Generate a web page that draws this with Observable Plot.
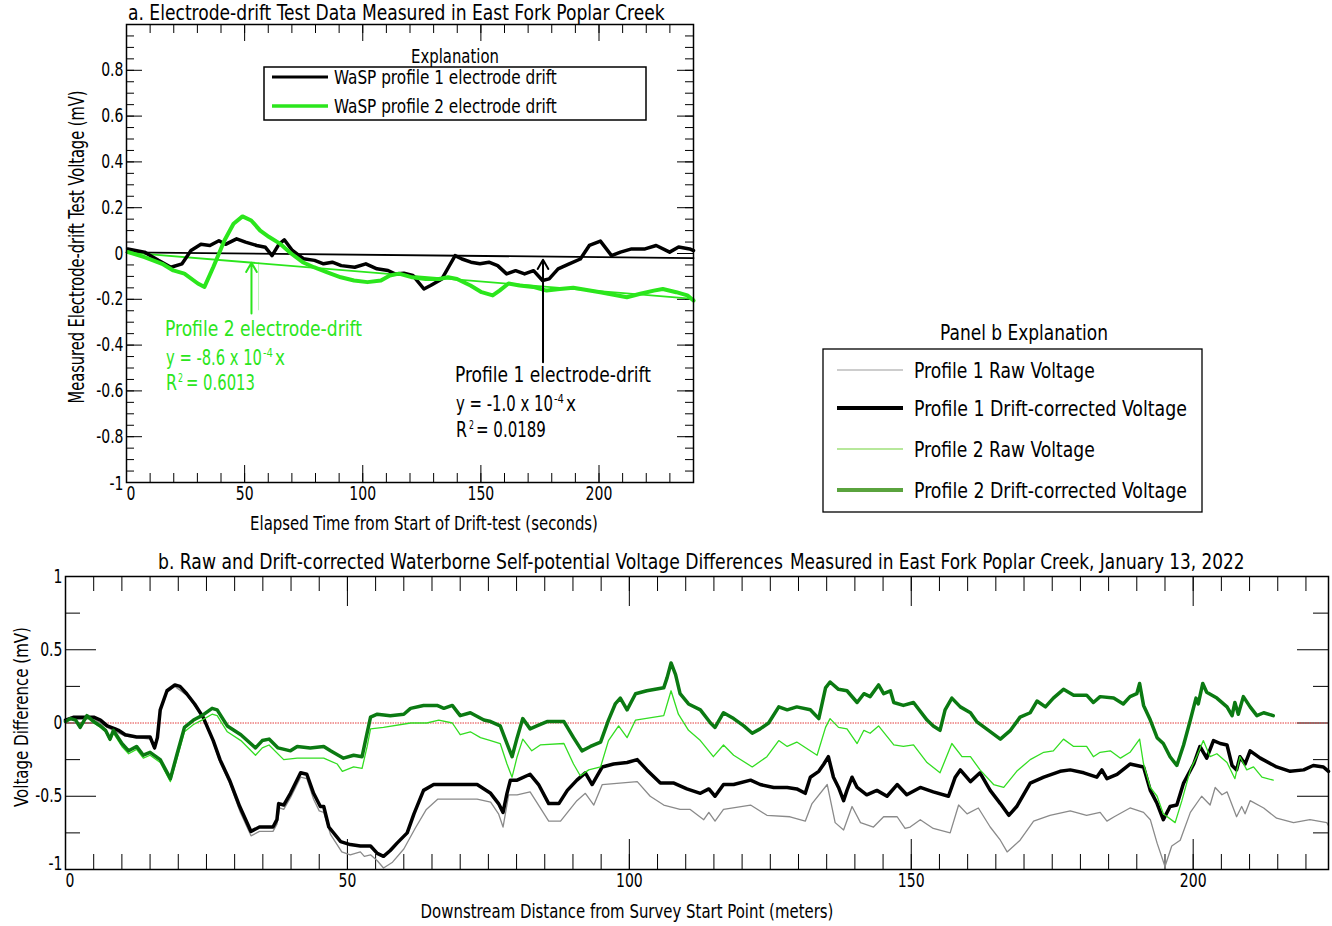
<!DOCTYPE html>
<html><head><meta charset="utf-8">
<script src="https://cdn.jsdelivr.net/npm/d3@7"></script>
<script src="https://cdn.jsdelivr.net/npm/@observablehq/plot@0.6"></script>
<style>
body{margin:0;background:#fff;width:1332px;height:926px;overflow:hidden;position:relative}
#pa,#pb,#ov{position:absolute;left:0}
#pa{top:0}#pb{top:545px}#ov{top:0}
svg text{font-family:"Liberation Sans Narrow","DejaVu Sans Condensed","Roboto Condensed","Noto Sans",sans-serif}
</style></head><body>
<div id="pa"></div><div id="pb"></div><svg id="ov" width="1332" height="926"></svg>
<script>
const FONT = '"Liberation Sans Narrow","DejaVu Sans Condensed","Roboto Condensed","Noto Sans",sans-serif';

// ---------- Panel a data: [elapsed seconds, mV] ----------
const drift1 = [[0.5,0.02],[7.6,0.006],[13.5,-0.03],[18.8,-0.06],[23.5,-0.045],[27.3,0.013],[31.5,0.04],[35.3,0.035],[39.1,0.056],[41.9,0.04],[46.6,0.064],[50.4,0.05],[55.1,0.035],[58.8,0.027],[61.6,-0.009],[64.5,0.04],[66.8,0.06],[70.2,0.013],[74.9,-0.023],[79.6,-0.03],[83.4,-0.045],[87.1,-0.038],[90.9,-0.053],[96.6,-0.06],[101.3,-0.045],[106,-0.067],[110.7,-0.074],[113.6,-0.089],[117.4,-0.086],[121.2,-0.096],[125.9,-0.155],[128.7,-0.14],[133.5,-0.111],[136.3,-0.06],[139.1,-0.009],[142,-0.024],[145.8,-0.038],[149.6,-0.045],[153.4,-0.038],[157.1,-0.053],[160.9,-0.089],[164.7,-0.075],[168.5,-0.089],[172.3,-0.075],[176.1,-0.118],[178.9,-0.111],[182.7,-0.067],[187.4,-0.045],[192.1,-0.024],[195.9,0.035],[200.6,0.054],[205.3,-0.009],[209.1,0.006],[213.8,0.02],[219.5,0.02],[224.2,0.035],[229.9,0.006],[233.7,0.028],[238.4,0.02],[240,0.013]];
const drift2 = [[0.7,0.006],[7.6,-0.016],[15.1,-0.045],[19.8,-0.074],[24.5,-0.088],[30.2,-0.131],[33,-0.146],[36.8,-0.058],[41.5,0.058],[45.3,0.13],[49.1,0.162],[52.8,0.144],[56.6,0.1],[60.4,0.072],[65.1,0.042],[69.8,-0.001],[74.6,-0.038],[79.3,-0.06],[85,-0.082],[90.7,-0.104],[96.3,-0.118],[102,-0.125],[107.7,-0.118],[111.5,-0.096],[115.3,-0.088],[121,-0.104],[126.6,-0.111],[132.3,-0.111],[136.1,-0.104],[139.9,-0.111],[145.6,-0.14],[150.3,-0.169],[155,-0.183],[157.9,-0.162],[161.7,-0.131],[166.4,-0.14],[172.1,-0.146],[177.8,-0.162],[183.4,-0.155],[189.1,-0.15],[194.8,-0.159],[200.5,-0.169],[206.2,-0.18],[211.8,-0.191],[217.5,-0.176],[223.2,-0.162],[227,-0.155],[232.7,-0.169],[237.4,-0.183],[240,-0.205]];
const fit1 = [[0,0.005],[240,-0.02]];
const fit2 = [[0,0.005],[240,-0.198]];
const arrowsA = [{t:52.9, from:-0.262, to:-0.04, c:"green"},{t:176.3, from:-0.475, to:-0.027, c:"black"}];
const ghostA = [{t:55.9, from:-0.25, to:-0.04}];

// ---------- Panel b data: [distance m, mV] ----------
const p1Corr = [[0,0.02],[1.5,0.04],[5,0.04],[6.2,0.02],[7.4,-0.02],[8.8,-0.04],[9.4,-0.05],[10.6,-0.08],[12.6,-0.095],[15,-0.095],[15.8,-0.17],[16.3,-0.1],[16.8,0.09],[18,0.22],[19.4,0.26],[20.3,0.25],[21.5,0.2],[22.9,0.13],[24.4,0.04],[26.2,-0.12],[27.4,-0.25],[29.1,-0.39],[30.9,-0.57],[32.9,-0.74],[34.4,-0.71],[36.8,-0.71],[37.5,-0.66],[37.8,-0.55],[38.7,-0.56],[39.9,-0.48],[41.7,-0.34],[42.8,-0.35],[44,-0.48],[45.2,-0.57],[45.8,-0.57],[46.7,-0.71],[48.8,-0.81],[50.5,-0.83],[52.3,-0.84],[54.1,-0.84],[55.3,-0.89],[56.4,-0.91],[57.6,-0.87],[58.8,-0.82],[60.6,-0.75],[61.8,-0.62],[63.5,-0.46],[65.3,-0.42],[67.1,-0.42],[68.9,-0.42],[70.6,-0.42],[73,-0.42],[75.4,-0.48],[76.8,-0.55],[77.6,-0.61],[78.3,-0.48],[78.9,-0.39],[80.1,-0.39],[82.4,-0.35],[83.9,-0.42],[85.7,-0.55],[87.5,-0.55],[89,-0.46],[90.7,-0.39],[92.2,-0.34],[93.4,-0.42],[95.2,-0.3],[97.2,-0.28],[99.6,-0.27],[101.4,-0.25],[103.1,-0.32],[105.5,-0.41],[107.9,-0.41],[110.2,-0.45],[112.6,-0.48],[114.1,-0.45],[115.2,-0.5],[116.7,-0.42],[118.5,-0.42],[121.5,-0.39],[123.2,-0.42],[125.6,-0.44],[128,-0.44],[129.7,-0.45],[131.2,-0.48],[132.1,-0.37],[133.6,-0.33],[134.5,-0.28],[135.3,-0.23],[136.2,-0.37],[137.1,-0.44],[138,-0.53],[138.6,-0.46],[139.5,-0.37],[140.4,-0.44],[142.1,-0.49],[143.9,-0.46],[145.7,-0.5],[147.5,-0.42],[149.2,-0.49],[151.6,-0.44],[153.9,-0.47],[156.6,-0.5],[157.8,-0.37],[158.7,-0.32],[160.5,-0.4],[162.2,-0.34],[164,-0.46],[165.8,-0.55],[167.3,-0.63],[168.7,-0.57],[171.1,-0.41],[173.5,-0.37],[176.4,-0.33],[178.2,-0.32],[180.6,-0.34],[182.9,-0.37],[183.8,-0.32],[184.7,-0.38],[186.5,-0.35],[188.8,-0.28],[191.2,-0.3],[192.4,-0.46],[193.6,-0.55],[194.7,-0.66],[195.9,-0.57],[197.1,-0.56],[198.3,-0.41],[200.1,-0.28],[201.2,-0.16],[202.4,-0.24],[203.6,-0.12],[204.8,-0.14],[206,-0.15],[206.9,-0.29],[207.7,-0.32],[208.3,-0.23],[209.2,-0.28],[210.1,-0.19],[211.9,-0.24],[214.8,-0.3],[217.2,-0.33],[219.6,-0.32],[221.3,-0.29],[223.1,-0.3],[224,-0.33]];
const p1Raw = [[0,0.02],[5,0.03],[7.4,-0.03],[10.6,-0.09],[15,-0.11],[15.8,-0.18],[16.3,-0.11],[16.8,0.08],[18,0.21],[19.4,0.25],[21.5,0.19],[22.9,0.12],[24.4,0.03],[26.2,-0.13],[27.4,-0.27],[29.1,-0.41],[30.9,-0.6],[32.9,-0.77],[34.4,-0.74],[36.8,-0.74],[37.5,-0.69],[38,-0.58],[38.7,-0.59],[39.9,-0.51],[41.7,-0.37],[42.8,-0.38],[44,-0.52],[45,-0.6],[45.8,-0.61],[47,-0.76],[49,-0.88],[50.5,-0.9],[52.3,-0.88],[53,-0.91],[54.1,-0.9],[55.3,-0.94],[56.4,-0.99],[58,-0.95],[60,-0.86],[62,-0.72],[64,-0.59],[66,-0.52],[70,-0.52],[73,-0.52],[75.4,-0.54],[76.8,-0.62],[77.6,-0.71],[78.6,-0.49],[80.1,-0.49],[82.4,-0.47],[85.7,-0.67],[87.8,-0.67],[90.7,-0.53],[92.2,-0.48],[93.7,-0.56],[95.2,-0.42],[101.4,-0.4],[103.7,-0.5],[106.1,-0.56],[109,-0.59],[110.8,-0.59],[113.2,-0.66],[114.1,-0.61],[115.2,-0.67],[116.7,-0.59],[121.5,-0.56],[124.4,-0.63],[128.5,-0.64],[131.2,-0.67],[132.4,-0.55],[135.1,-0.42],[136.5,-0.68],[138,-0.73],[139.5,-0.57],[141,-0.68],[143.3,-0.71],[145.1,-0.64],[147.5,-0.64],[148.9,-0.72],[149.8,-0.71],[151.6,-0.66],[153.9,-0.72],[156.9,-0.75],[158.4,-0.56],[159.9,-0.62],[161.9,-0.58],[164,-0.71],[165.8,-0.8],[167,-0.88],[169.3,-0.8],[171.7,-0.67],[174.6,-0.63],[178.2,-0.6],[181.1,-0.63],[183.5,-0.61],[184.7,-0.67],[186,-0.64],[188.8,-0.58],[191.2,-0.61],[192.4,-0.66],[193.6,-0.82],[195,-0.98],[196.2,-0.84],[197.7,-0.8],[199.5,-0.61],[201.5,-0.5],[203,-0.56],[203.9,-0.44],[205.1,-0.49],[206,-0.47],[207.7,-0.64],[208.6,-0.57],[209.2,-0.62],[210.1,-0.53],[212.5,-0.58],[214.8,-0.65],[217.8,-0.68],[220.7,-0.66],[223.7,-0.68],[224,-0.7]];
const p2Corr = [[0,0.01],[0.9,0.03],[1.8,0.02],[2.6,-0.03],[3.8,0.05],[5,0.01],[6.2,-0.02],[7.1,-0.05],[7.9,-0.11],[8.5,-0.05],[10,-0.14],[11.2,-0.19],[12.6,-0.16],[13.8,-0.22],[15,-0.2],[16.8,-0.25],[18.6,-0.38],[19.8,-0.21],[21.1,-0.03],[22.7,0.02],[24.2,0.05],[26,0.1],[26.9,0.09],[28.7,-0.02],[31.1,-0.08],[33.7,-0.17],[34.9,-0.12],[36.1,-0.11],[37.7,-0.17],[39.9,-0.19],[41.1,-0.16],[43.4,-0.17],[45.8,-0.16],[47,-0.19],[49.3,-0.24],[51.1,-0.22],[52.6,-0.23],[53.2,-0.12],[54.1,0.04],[55.3,0.06],[57.6,0.05],[60,0.06],[61.2,0.1],[63.5,0.12],[65.9,0.12],[67.1,0.1],[68.6,0.12],[70,0.05],[71.8,0.07],[74.2,0.02],[75.4,0.01],[77.1,-0.02],[78.3,-0.14],[79.2,-0.23],[80.1,-0.1],[81.1,0.03],[82.4,-0.04],[83.6,-0.02],[85.4,0.01],[88.4,0.01],[90.1,-0.1],[91.6,-0.19],[93.1,-0.16],[94.9,-0.13],[96.3,0.02],[97.5,0.13],[98.4,0.17],[99.6,0.09],[101.1,0.2],[103.1,0.22],[106.1,0.24],[106.7,0.31],[107.4,0.41],[108.2,0.33],[109,0.2],[110.5,0.13],[112.6,0.09],[114.4,0],[115.2,-0.03],[116.7,0.07],[118.5,0.03],[120.3,-0.02],[121.8,-0.07],[123.2,-0.04],[124.7,0],[126.5,0.11],[128,0.09],[129.7,0.11],[132.1,0.09],[133.6,0.03],[134.8,0.24],[135.6,0.28],[137.1,0.23],[138.6,0.22],[140.4,0.14],[141.6,0.2],[142.7,0.18],[144.2,0.26],[145.1,0.2],[146.3,0.22],[146.9,0.14],[148.6,0.12],[150.4,0.14],[152.8,0.02],[153.9,-0.02],[155.1,-0.05],[156,0.09],[157.2,0.17],[158.7,0.11],[160.5,0.07],[161.6,0.01],[163.7,-0.05],[165.8,-0.11],[167.6,-0.05],[169.3,0.04],[171.1,0.07],[172.3,0.15],[173.8,0.11],[175.2,0.17],[177,0.23],[178.8,0.19],[181.1,0.19],[182.3,0.14],[183.5,0.18],[185.9,0.17],[187.6,0.13],[188.8,0.18],[190,0.2],[190.5,0.27],[191.2,0.12],[192.4,0.02],[193.6,-0.1],[194.7,-0.14],[195.9,-0.23],[197.1,-0.29],[198.3,-0.15],[199.5,0.02],[200.5,0.17],[200.9,0.13],[201.7,0.27],[202.4,0.21],[204.2,0.17],[206,0.11],[206.9,0.05],[207.4,0.14],[208,0.06],[208.9,0.18],[210.1,0.11],[211.3,0.05],[212.5,0.07],[214.2,0.05]];
const p2Raw = [[0,0.01],[0.9,0.03],[1.8,0.02],[2.6,-0.03],[3.8,0.04],[5,0],[6.2,-0.03],[7.1,-0.06],[7.9,-0.12],[8.5,-0.07],[10,-0.16],[11.2,-0.21],[12.6,-0.18],[13.8,-0.24],[15,-0.22],[16.8,-0.27],[18.6,-0.4],[19.8,-0.24],[21.1,-0.06],[22.7,-0.01],[24.2,0.02],[26,0.06],[26.9,0.05],[28.7,-0.06],[31.1,-0.12],[33.7,-0.22],[34.9,-0.17],[36.1,-0.15],[38.7,-0.25],[41.1,-0.24],[45.8,-0.24],[48.2,-0.28],[49.1,-0.33],[51.1,-0.3],[52.6,-0.31],[53.5,-0.16],[54.1,-0.04],[56.4,-0.03],[61.2,0],[64.1,0],[66.2,0.02],[68.6,0],[70,-0.08],[71.8,-0.06],[73.6,-0.1],[75.4,-0.12],[77.1,-0.14],[78.3,-0.28],[79.2,-0.37],[80.1,-0.23],[81.1,-0.11],[82.7,-0.19],[84.2,-0.15],[88.4,-0.14],[90.1,-0.28],[91.3,-0.36],[92.8,-0.32],[94.9,-0.3],[96.3,-0.12],[98.1,-0.02],[99.6,-0.1],[101.1,0.02],[106.1,0.05],[107.4,0.22],[108.7,0.06],[110.5,-0.05],[112.6,-0.12],[114.9,-0.23],[116.7,-0.15],[118.5,-0.22],[121.8,-0.3],[124.4,-0.23],[126.5,-0.12],[128,-0.16],[129.7,-0.13],[133.3,-0.22],[134.8,-0.03],[135.6,0.03],[137.1,-0.03],[138.6,-0.04],[140.4,-0.14],[141.6,-0.05],[142.7,-0.07],[144.2,-0.02],[146.3,-0.12],[146.9,-0.15],[148.6,-0.16],[150.4,-0.15],[152.8,-0.27],[155.1,-0.34],[157.2,-0.14],[159,-0.23],[160.5,-0.23],[162.2,-0.32],[164.6,-0.42],[166.4,-0.44],[168.7,-0.33],[171.1,-0.25],[173.5,-0.2],[175.2,-0.19],[177,-0.11],[178.8,-0.16],[181.1,-0.16],[182.3,-0.23],[183.5,-0.2],[185.3,-0.19],[187.1,-0.24],[188.8,-0.2],[190.5,-0.11],[191.2,-0.28],[192.4,-0.44],[193.6,-0.5],[194.7,-0.62],[196.8,-0.68],[198,-0.53],[199.5,-0.32],[200.6,-0.23],[201.8,-0.12],[203,-0.23],[204.2,-0.21],[206,-0.27],[207.4,-0.38],[208.3,-0.23],[209.5,-0.32],[210.7,-0.3],[212.2,-0.37],[214.2,-0.39]];

// tick labels (the corner labels 0 and -1 are set apart, as in the original)
const xLabelsA = [50,100,150,200];
const yLabelsA = [-0.8,-0.6,-0.4,-0.2,0,0.2,0.4,0.6,0.8];
const xLabelsB = [50,100,150,200];
const yLabelsB = [-0.5,0,0.5,1];
const xCorner = [0], yCorner = [-1];

// colors
const GREEN_A = "#2be61c", P1RAW="#8a8a8a", P1COR="#000000", P2RAW="#33dd22", P2COR="#0b7a12";

const row = d => ({x:d[0], y:d[1]});
const ticksFor = (xs, ys, lx, ly, fh, fw) => [
  Plot.tickX(xs,{x:d=>d, insetTop:fh-lx, stroke:"black"}),
  Plot.tickX(xs,{x:d=>d, insetBottom:fh-lx, stroke:"black"}),
  Plot.tickY(ys,{y:d=>d, insetRight:fw-ly, stroke:"black"}),
  Plot.tickY(ys,{y:d=>d, insetLeft:fw-ly, stroke:"black"})
];
const axesFor = (xl, yl, yCornerDy) => [
  Plot.axisX({ticks:xl, tickSize:0, tickPadding:4, tickFormat:d=>String(d), label:null}),
  Plot.axisX({ticks:xCorner, tickSize:0, tickPadding:4, tickFormat:d=>String(d), label:null, textAnchor:"start", dx:0}),
  Plot.axisY({ticks:yl, tickSize:0, tickPadding:3, tickFormat:d=>String(d), label:null}),
  Plot.axisY({ticks:yCorner, tickSize:0, tickPadding:3, tickFormat:d=>String(d), label:null, dy:yCornerDy})
];
// narrow the tick labels to imitate the condensed face of the original
function condense(svg, f){
  svg.querySelectorAll('g[aria-label$="tick label"] text').forEach(t=>{
    const L=t.getComputedTextLength();
    t.setAttribute("textLength", (L*f).toFixed(1));
    t.setAttribute("lengthAdjust","spacingAndGlyphs");
  });
}

// ---------- Panel a ----------
const WA=700, HA=540, mA={top:24,right:7,bottom:58,left:126};
const fhA=HA-mA.top-mA.bottom, fwA=WA-mA.left-mA.right;
const xMinA=d3.range(0,241,10), xMajA=d3.range(0,241,50);
const yMinA=d3.range(-20,21).map(i=>+(i*0.05).toFixed(2)), yMajA=d3.range(-5,6).map(i=>+(i*0.2).toFixed(2));
const plotA = Plot.plot({
  width:WA, height:HA, marginTop:mA.top, marginRight:mA.right, marginBottom:mA.bottom, marginLeft:mA.left,
  x:{domain:[0,240]}, y:{domain:[-1,1]},
  style:{fontFamily:FONT, fontSize:"19px", color:"black", background:"transparent"},
  marks:[
    ...ticksFor(xMinA, yMinA, 9, 8, fhA, fwA),
    ...ticksFor(xMajA, yMajA, 17, 16, fhA, fwA),
    ...axesFor(xLabelsA, yLabelsA, 1),
    Plot.line(fit1.map(row),{x:"x",y:"y",stroke:"black",strokeWidth:1.8}),
    Plot.line(fit2.map(row),{x:"x",y:"y",stroke:GREEN_A,strokeWidth:1.8}),
    Plot.line(drift1.map(row),{x:"x",y:"y",stroke:"black",strokeWidth:3.5,strokeLinejoin:"round"}),
    Plot.line(drift2.map(row),{x:"x",y:"y",stroke:GREEN_A,strokeWidth:4,strokeLinejoin:"round"}),
    Plot.ruleX(ghostA,{x:"t",y1:"from",y2:"to",stroke:GREEN_A,strokeOpacity:0.35,strokeWidth:1}),
    Plot.arrow(arrowsA,{x1:"t",x2:"t",y1:"from",y2:"to",stroke:d=>d.c==="green"?GREEN_A:"black",strokeWidth:2,headLength:8}),
    Plot.frame({stroke:"black",strokeWidth:1.5})
  ]
});
document.getElementById("pa").appendChild(plotA);
condense(plotA, 0.82);

// ---------- Panel b ----------
const WB=1332, HB=381, mB={top:31,right:4,bottom:57,left:65};
const fhB=HB-mB.top-mB.bottom, fwB=WB-mB.left-mB.right;
const xMinB=d3.range(0,224,5), xMajB=d3.range(0,224,50);
const yMinB=[-0.75,-0.25,0.25,0.75], yMajB=[-0.5,0,0.5];
const plotB = Plot.plot({
  width:WB, height:HB, marginTop:mB.top, marginRight:mB.right, marginBottom:mB.bottom, marginLeft:mB.left,
  x:{domain:[0,224]}, y:{domain:[-1,1]},
  style:{fontFamily:FONT, fontSize:"19px", color:"black", background:"transparent"},
  marks:[
    ...ticksFor(xMinB, yMinB, 15, 15, fhB, fwB),
    ...ticksFor(xMajB, yMajB, 30, 31, fhB, fwB),
    ...axesFor(xLabelsB, yLabelsB, -6),
    Plot.ruleY([0],{stroke:"#e23b3b",strokeWidth:1,strokeDasharray:"1.5,1"}),
    Plot.line(p1Raw.map(row),{x:"x",y:"y",stroke:P1RAW,strokeWidth:1.3}),
    Plot.line(p1Corr.map(row),{x:"x",y:"y",stroke:P1COR,strokeWidth:3.5,strokeLinejoin:"round"}),
    Plot.line(p2Raw.map(row),{x:"x",y:"y",stroke:P2RAW,strokeWidth:1.3}),
    Plot.line(p2Corr.map(row),{x:"x",y:"y",stroke:P2COR,strokeWidth:3.5,strokeLinejoin:"round"}),
    Plot.frame({stroke:"black",strokeWidth:1.5})
  ]
});
document.getElementById("pb").appendChild(plotB);
condense(plotB, 0.82);

// ---------- Overlay texts & legends ----------
const ov = d3.select("#ov");
// text squeezed horizontally (by a transform) to a measured width, imitating the condensed face
function T(x,y,s,o={}){
  const t=ov.append("text").attr("font-size",o.size||19)
    .attr("text-anchor",o.anchor||"start").attr("fill",o.fill||"black").text(s);
  let tr=`translate(${x},${y})`;
  if(o.rot) tr+=` rotate(${o.rot})`;
  if(o.len){ const L=t.node().getComputedTextLength(); tr+=` scale(${(o.len/L).toFixed(4)},1)`; }
  t.attr("transform",tr);
  return t;
}
// a text with a superscript, laid out as separate pieces: [x, len, string, isSup]
function pieces(y, parts, fill, size){
  parts.forEach(([x,len,s,sup])=>T(x, sup? y-8 : y, s, {size: sup? 13 : size, fill, len}));
}
// panel a
T(128,20,"a. Electrode-drift Test Data Measured in East Fork Poplar Creek",{size:21,len:537});
T(455,63,"Explanation",{size:19,anchor:"middle",len:88});
ov.append("rect").attr("x",264).attr("y",67).attr("width",382).attr("height",53).attr("fill","white").attr("stroke","black").attr("stroke-width",1.5);
ov.append("line").attr("x1",272).attr("x2",328).attr("y1",77).attr("y2",77).attr("stroke","black").attr("stroke-width",3);
ov.append("line").attr("x1",272).attr("x2",328).attr("y1",106).attr("y2",106).attr("stroke",GREEN_A).attr("stroke-width",3.5);
T(334,84,"WaSP profile 1 electrode drift",{size:20,len:223});
T(334,113,"WaSP profile 2 electrode drift",{size:20,len:223});
T(165,336,"Profile 2 electrode-drift",{size:22,fill:GREEN_A,len:197});
pieces(365,[[166,96,"y = -8.6 x 10",false],[263,10,"-4",true],[275,10,"x",false]],GREEN_A,22);
pieces(390,[[166,11,"R",false],[178,5,"2",true],[186,69,"= 0.6013",false]],GREEN_A,22);
T(455,382,"Profile 1 electrode-drift",{size:22,len:196});
pieces(411,[[456,97,"y = -1.0 x 10",false],[554,10,"-4",true],[566,10,"x",false]],"black",22);
pieces(437,[[456,11,"R",false],[469,5,"2",true],[476,70,"= 0.0189",false]],"black",22);
T(84,247,"Measured Electrode-drift Test  Voltage (mV)",{size:21,anchor:"middle",rot:-90,len:313});
T(424,530,"Elapsed Time from Start of Drift-test (seconds)",{size:20,anchor:"middle",len:348});
// panel b legend
T(1024,340,"Panel b Explanation",{size:21,anchor:"middle",len:168});
ov.append("rect").attr("x",823).attr("y",349).attr("width",379).attr("height",163).attr("fill","white").attr("stroke","black").attr("stroke-width",1.3);
const legB=[["Profile 1 Raw Voltage","#bdbdbd",1.5,370,181],["Profile 1 Drift-corrected Voltage","#000",4,408,273],["Profile 2 Raw Voltage","#9fe07a",1.5,449,181],["Profile 2 Drift-corrected Voltage","#5aa33e",4,490,273]];
legB.forEach(([s,c,w,y,len])=>{
  ov.append("line").attr("x1",837).attr("x2",903).attr("y1",y).attr("y2",y).attr("stroke",c).attr("stroke-width",w);
  T(914,y+8,s,{size:22,len});
});
// panel b labels (title set in two pieces)
T(158,569,"b. Raw and Drift-corrected Waterborne Self-potential Voltage Differences",{size:21,len:625});
T(790,569,"Measured in East Fork Poplar Creek, January 13, 2022",{size:21,len:455});
T(28,717,"Voltage Difference (mV)",{size:20,anchor:"middle",rot:-90,len:180});
T(627,918,"Downstream Distance from Survey Start Point (meters)",{size:20,anchor:"middle",len:413});
</script>
</body></html>
